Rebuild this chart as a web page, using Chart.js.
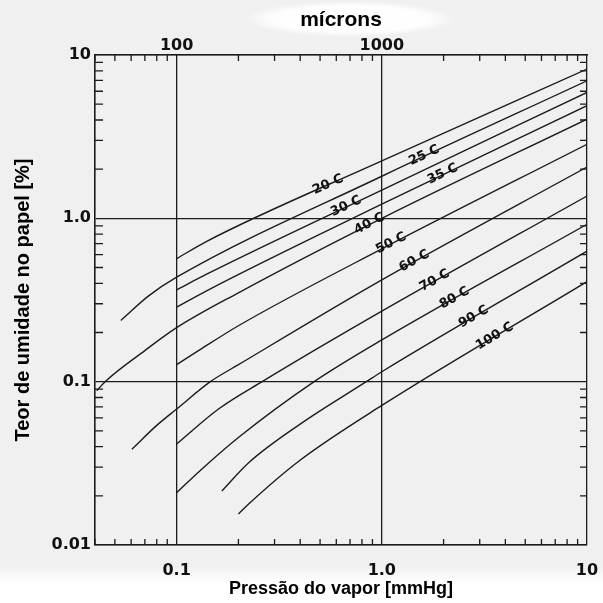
<!DOCTYPE html>
<html>
<head>
<meta charset="utf-8">
<script src="https://cdn.jsdelivr.net/npm/chart.js@4.4.0/dist/chart.umd.min.js"></script>
<style>
  html, body { margin: 0; padding: 0; background: #f1f1f1; }
  #wrap { width: 603px; height: 603px; }
</style>
</head>
<body>
<div id="wrap"><canvas id="chartCanvas"></canvas></div>
<script>
// Isotermas de umidade do papel: pressão do vapor [mmHg] x teor de umidade [%]
const temperaturas = ["20 C", "25 C", "30 C", "35 C", "40 C", "50 C", "60 C", "70 C", "80 C", "90 C", "100 C"];

const pressao = [
  [0.1, 0.138, 1, 10],
  [0.0535, 0.073, 0.1, 1, 10],
  [0.1, 0.14, 1, 10],
  [0.1, 0.14, 1, 10],
  [0.0408, 0.0448, 0.07, 0.1, 0.2, 1, 10],
  [0.1, 0.13, 0.2, 1, 10],
  [0.0605, 0.08, 0.1, 0.146, 0.2, 1, 10],
  [0.1, 0.16, 0.261, 1, 10],
  [0.1, 0.13, 0.2, 0.468, 1, 10],
  [0.166, 0.225, 0.4, 0.84, 1, 10],
  [0.2, 0.225, 0.395, 1, 10]
];

const umidade = [
  [0.566, 0.716, 2.25, 8.2],
  [0.237, 0.335, 0.436, 1.81, 6.95],
  [0.365, 0.455, 1.49, 5.9],
  [0.286, 0.36, 1.22, 4.89],
  [0.088, 0.1, 0.155, 0.214, 0.35, 1.0, 4.05],
  [0.127, 0.157, 0.22, 0.65, 2.84],
  [0.0386, 0.054, 0.068, 0.1, 0.127, 0.42, 2.06],
  [0.0415, 0.068, 0.1, 0.27, 1.37],
  [0.0209, 0.0285, 0.0455, 0.1, 0.18, 0.92],
  [0.0214, 0.032, 0.055, 0.1, 0.115, 0.63],
  [0.0155, 0.0179, 0.0327, 0.0715, 0.41]
];

// pressão (mmHg) onde fica o rótulo de cada isoterma
const posRotulo = [0.547, 1.61, 0.67, 1.98, 0.87, 1.11, 1.44, 1.81, 2.26, 2.8, 3.55];

const ticksPressao = [0.1, 1, 10];
const rotulosPressao = ["0.1", "1.0", "10"];
const ticksMicrons = [0.1, 1];
const rotulosMicrons = ["100", "1000"];
const ticksUmidade = [0.01, 0.1, 1, 10];
const rotulosUmidade = ["0.01", "0.1", "1.0", "10"];

const corTraco = "#1c1c1c";
const fonteEixo = { family: "DejaVu Sans", size: 16, weight: "bold" };

// fundo cinza claro da folha, com as áreas brancas dos títulos
const fundo = {
  id: "fundo",
  beforeDraw(chart) {
    const ctx = chart.ctx;
    ctx.save();
    ctx.fillStyle = "#f0f0f0";
    ctx.fillRect(0, 0, chart.width, chart.height);
    ctx.save();
    ctx.translate(350, 19);
    ctx.scale(1, 0.17);
    const r = ctx.createRadialGradient(0, 0, 0, 0, 0, 105);
    r.addColorStop(0, "rgba(255,255,255,1)");
    r.addColorStop(0.75, "rgba(255,255,255,0.9)");
    r.addColorStop(1, "rgba(255,255,255,0)");
    ctx.fillStyle = r;
    ctx.beginPath();
    ctx.arc(0, 0, 105, 0, Math.PI * 2);
    ctx.fill();
    ctx.restore();
    const g = ctx.createLinearGradient(0, 566, 0, 584);
    g.addColorStop(0, "rgba(255,255,255,0)");
    g.addColorStop(1, "rgba(255,255,255,1)");
    ctx.fillStyle = g;
    ctx.fillRect(0, 566, chart.width, chart.height - 566);
    ctx.restore();
  }
};

// marcas menores (2..9 de cada década) voltadas para dentro, nos quatro lados
const marcasMenores = {
  id: "marcasMenores",
  afterDraw(chart) {
    const { ctx, chartArea: a, scales } = chart;
    ctx.save();
    ctx.strokeStyle = corTraco;
    ctx.lineWidth = 1.3;
    ctx.beginPath();
    for (let e = -2; e <= 0; e++) {
      for (let k = 2; k <= 9; k++) {
        const v = k * Math.pow(10, e);
        const py = scales.y.getPixelForValue(v);
        ctx.moveTo(a.left, py); ctx.lineTo(a.left + 8, py);
        ctx.moveTo(a.right, py); ctx.lineTo(a.right - 7, py);
        if (v >= 0.04 && v <= 10) {
          const px = scales.x.getPixelForValue(v);
          ctx.moveTo(px, a.top); ctx.lineTo(px, a.top + 6);
          ctx.moveTo(px, a.bottom); ctx.lineTo(px, a.bottom - 6);
        }
      }
    }
    ctx.stroke();
    ctx.restore();
  }
};

// rótulo de temperatura escrito sobre cada curva, inclinado como ela
const rotulosCurvas = {
  id: "rotulosCurvas",
  afterDatasetsDraw(chart) {
    const { ctx, scales } = chart;
    ctx.save();
    ctx.fillStyle = "#111";
    ctx.font = "bold 13px 'DejaVu Sans'";
    ctx.textAlign = "center";
    ctx.textBaseline = "middle";
    temperaturas.forEach((t, i) => {
      const xs = pressao[i], ys = umidade[i], x = posRotulo[i];
      let j = 0;
      while (j < xs.length - 2 && xs[j + 1] < x) j++;
      const f = (Math.log10(x) - Math.log10(xs[j])) / (Math.log10(xs[j + 1]) - Math.log10(xs[j]));
      const y = Math.pow(10, Math.log10(ys[j]) + f * (Math.log10(ys[j + 1]) - Math.log10(ys[j])));
      const x0 = scales.x.getPixelForValue(xs[j]), y0 = scales.y.getPixelForValue(ys[j]);
      const x1 = scales.x.getPixelForValue(xs[j + 1]), y1 = scales.y.getPixelForValue(ys[j + 1]);
      ctx.save();
      ctx.translate(scales.x.getPixelForValue(x), scales.y.getPixelForValue(y) - 1);
      ctx.rotate(Math.atan2(y1 - y0, x1 - x0));
      ctx.fillText(t, 0, 0);
      ctx.restore();
    });
    ctx.restore();
  }
};

function fixarTicks(valores) {
  return (scale) => { scale.ticks = valores.map((v) => ({ value: v })); };
}

// altura fixa do eixo horizontal, sem a folga lateral que o Chart.js reserva para os rótulos
function alturaFixa(h) {
  return (s) => { s.height = h; s.paddingLeft = 0; s.paddingRight = 0; };
}

const datasets = temperaturas.map((t, i) => ({
  label: t,
  data: pressao[i].map((p, j) => ({ x: p, y: umidade[i][j] })),
  borderColor: corTraco,
  borderWidth: 1.4,
  pointRadius: 0,
  fill: false,
  cubicInterpolationMode: "monotone",
  xAxisID: "x",
  yAxisID: "y"
}));

new Chart(document.getElementById("chartCanvas"), {
  type: "line",
  data: { datasets },
  options: {
    responsive: true,
    maintainAspectRatio: false,
    animation: false,
    events: [],
    layout: { padding: { left: 8, right: 16, top: 4, bottom: 2 } },
    plugins: { legend: { display: false }, tooltip: { enabled: false } },
    scales: {
      x: {
        type: "logarithmic",
        position: "bottom",
        min: 0.04,
        max: 10,
        afterBuildTicks: fixarTicks(ticksPressao),
        afterFit: alturaFixa(56),
        ticks: {
          autoSkip: false,
          maxRotation: 0,
          padding: 16,
          color: "#111",
          font: fonteEixo,
          callback: (v, i) => rotulosPressao[i]
        },
        grid: { color: corTraco, lineWidth: 1.3, drawTicks: false },
        border: { color: corTraco, width: 1.6 },
        title: {
          display: true,
          text: "Pressão do vapor [mmHg]",
          color: "#000",
          font: { family: "Liberation Sans", size: 18, weight: "bold" },
          padding: { top: 2, bottom: 1 }
        }
      },
      x2: {
        type: "logarithmic",
        position: "top",
        min: 0.04,
        max: 10,
        afterBuildTicks: fixarTicks(ticksMicrons),
        afterFit: alturaFixa(51),
        ticks: {
          autoSkip: false,
          maxRotation: 0,
          padding: 0,
          color: "#111",
          font: fonteEixo,
          callback: (v, i) => rotulosMicrons[i]
        },
        grid: { drawOnChartArea: false, drawTicks: false },
        border: { color: corTraco, width: 1.6 },
        title: {
          display: true,
          text: "mícrons",
          color: "#000",
          font: { family: "Liberation Sans", size: 21, weight: "bold" },
          padding: { top: 4, bottom: 1 }
        }
      },
      y: {
        type: "logarithmic",
        position: "left",
        min: 0.01,
        max: 10,
        afterBuildTicks: fixarTicks(ticksUmidade),
        afterFit: (s) => { s.width = 87; },
        ticks: {
          autoSkip: false,
          padding: 4,
          color: "#111",
          font: fonteEixo,
          callback: (v, i) => rotulosUmidade[i]
        },
        grid: { color: corTraco, lineWidth: 1.3, drawTicks: false },
        border: { color: corTraco, width: 1.6 },
        title: {
          display: true,
          text: "Teor de umidade no papel [%]",
          color: "#000",
          font: { family: "Liberation Sans", size: 20, weight: "bold" },
          padding: { top: 3, bottom: 4 }
        }
      }
    }
  },
  plugins: [fundo, marcasMenores, rotulosCurvas]
});
</script>
</body>
</html>
